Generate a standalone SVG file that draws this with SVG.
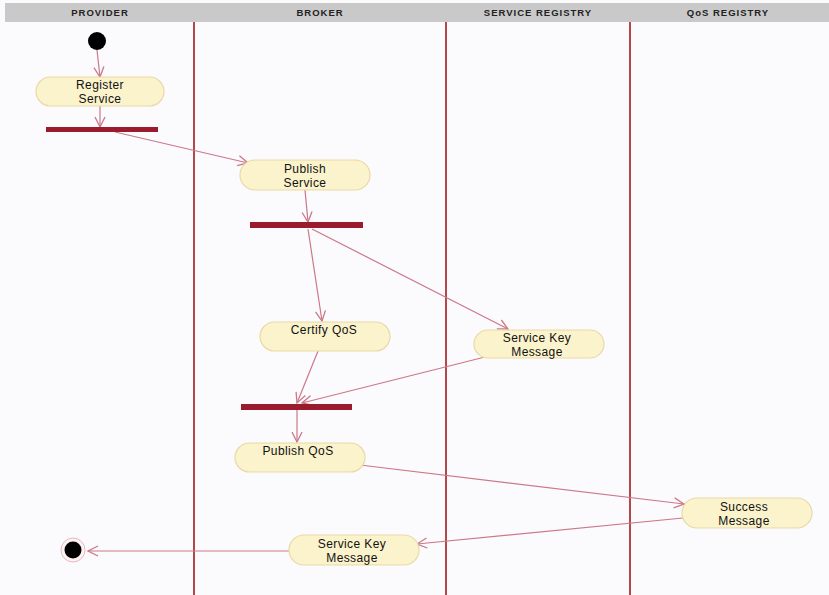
<svg xmlns="http://www.w3.org/2000/svg" width="829" height="595" viewBox="0 0 829 595">
  <defs>
    <style>
      .hdr { font-family: "Liberation Sans", Arial, sans-serif; font-size: 9.5px; font-weight: bold; fill: #222; text-anchor: middle; letter-spacing: 1px; }
      .lane { stroke: #b5474a; stroke-width: 2; }
      .act { fill: #fbf3cc; stroke: #e9d9a6; stroke-width: 1.2; }
      .lbl { font-family: "Liberation Sans", Arial, sans-serif; font-size: 12px; fill: #111; text-anchor: middle; letter-spacing: 0.4px; }
      .bar { fill: #9a1a2e; }
      .flow { stroke: #cc7888; stroke-width: 1.2; fill: none; marker-end: url(#arrow); }
    </style>
    <marker id="arrow" viewBox="0 0 12 12" refX="11" refY="6" markerWidth="12" markerHeight="12" markerUnits="userSpaceOnUse" orient="auto">
      <path d="M1,1 L11,6 L1,11" fill="none" stroke="#cc7888" stroke-width="1.3"/>
    </marker>
  </defs>

  <rect width="829" height="595" fill="#fbfbfd"/>

  <!-- swimlane header -->
  <rect x="5" y="3" width="824" height="19" fill="#c9c9c9"/>
  <text class="hdr" x="100" y="16">PROVIDER</text>
  <text class="hdr" x="320" y="16">BROKER</text>
  <text class="hdr" x="538" y="16">SERVICE REGISTRY</text>
  <text class="hdr" x="728" y="16">QoS REGISTRY</text>

  <!-- swimlane separators -->
  <line class="lane" x1="194" y1="22" x2="194" y2="595"/>
  <line class="lane" x1="446" y1="22" x2="446" y2="595"/>
  <line class="lane" x1="630" y1="22" x2="630" y2="595"/>

  <!-- connectors -->
  <g id="connectors">
    <line class="flow" x1="97" y1="50" x2="100" y2="77"/>
    <line class="flow" x1="100" y1="106" x2="100" y2="127"/>
    <line class="flow" x1="115" y1="132" x2="248" y2="163"/>
    <line class="flow" x1="305" y1="190" x2="308" y2="222"/>
    <line class="flow" x1="308" y1="229" x2="322" y2="321"/>
    <line class="flow" x1="312" y1="229" x2="508" y2="329"/>
    <line class="flow" x1="318" y1="351" x2="297" y2="403"/>
    <line class="flow" x1="485" y1="357" x2="302" y2="403"/>
    <line class="flow" x1="297" y1="410" x2="297" y2="442"/>
    <line class="flow" x1="360" y1="465" x2="684" y2="504"/>
    <line class="flow" x1="683" y1="518" x2="417" y2="544"/>
    <line class="flow" x1="289" y1="551" x2="88" y2="551"/>
  </g>

  <!-- nodes -->
  <g id="start">
    <circle cx="97" cy="41" r="9" fill="#000"/>
  </g>

  <g id="register-service">
    <rect class="act" x="36" y="77" width="128" height="29" rx="14.5"/>
    <text class="lbl" x="100" y="89">Register</text>
    <text class="lbl" x="100" y="103">Service</text>
  </g>

  <g id="fork-1">
    <rect class="bar" x="46" y="127" width="112" height="5"/>
  </g>

  <g id="publish-service">
    <rect class="act" x="240" y="160" width="130" height="30" rx="15"/>
    <text class="lbl" x="305" y="173">Publish</text>
    <text class="lbl" x="305" y="187">Service</text>
  </g>

  <g id="fork-2">
    <rect class="bar" x="250" y="222" width="113" height="6"/>
  </g>

  <g id="certify-qos">
    <rect class="act" x="260" y="322" width="130" height="29" rx="14.5"/>
    <text class="lbl" x="324" y="334">Certify QoS</text>
  </g>

  <g id="service-key-message-1">
    <rect class="act" x="474" y="330" width="130" height="28" rx="14"/>
    <text class="lbl" x="537" y="342">Service Key</text>
    <text class="lbl" x="537" y="356">Message</text>
  </g>

  <g id="join-1">
    <rect class="bar" x="241" y="404" width="111" height="6"/>
  </g>

  <g id="publish-qos">
    <rect class="act" x="235" y="443" width="130" height="29" rx="14.5"/>
    <text class="lbl" x="298" y="455">Publish QoS</text>
  </g>

  <g id="success-message">
    <rect class="act" x="682" y="498" width="130" height="30" rx="15"/>
    <text class="lbl" x="744" y="511">Success</text>
    <text class="lbl" x="744" y="525">Message</text>
  </g>

  <g id="service-key-message-2">
    <rect class="act" x="289" y="535" width="130" height="30" rx="15"/>
    <text class="lbl" x="352" y="548">Service Key</text>
    <text class="lbl" x="352" y="562">Message</text>
  </g>

  <g id="end">
    <circle cx="73" cy="550" r="12" fill="#fdf3f3" stroke="#e8b8bc" stroke-width="1"/>
    <circle cx="73" cy="550" r="8.5" fill="#000"/>
  </g>
</svg>
